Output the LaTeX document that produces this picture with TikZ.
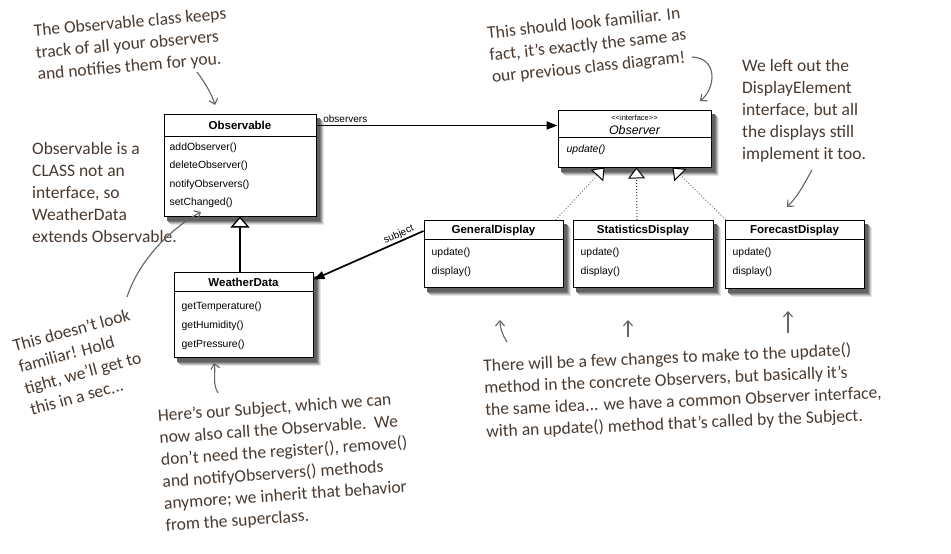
\documentclass[tikz,border=0pt]{standalone}
\usepackage{fontspec}
\setmainfont{Liberation Sans}
\newfontfamily\hand{Carlito}
\usetikzlibrary{arrows.meta,backgrounds,calc}
\definecolor{ink}{RGB}{72,58,48}
\definecolor{pen}{RGB}{100,100,100}
\begin{document}
\begin{tikzpicture}[x=1pt,y=-1pt,
  cls/.style={draw, line width=1pt, fill=white, inner sep=0pt},
  ttl/.style={font=\bfseries\fontsize{11.5}{13}\selectfont, inner sep=0pt},
  meth/.style={anchor=west, font=\fontsize{10.4}{12}\selectfont, inner sep=0pt},
  divl/.style={line width=0.8pt},
  lbl/.style={font=\fontsize{10}{12}\selectfont, inner sep=0pt},
  note/.style={align=left, font=\hand\fontsize{17.5}{22}\selectfont, text=ink, inner sep=0pt},
  pencil/.style={draw=pen, line width=1.1pt, -{Straight Barb[length=5pt, width=9pt]}},
  real/.style={dotted, draw=gray, line width=1pt,
    -{Triangle[open, length=11pt, width=17pt, color=black, fill=white]}},
  assoc/.style={line width=1.7pt, -{Triangle[length=11pt, width=8pt]}},
  inher/.style={line width=1.3pt, -{Triangle[open, length=11pt, width=19pt, fill=white]}}
]
\useasboundingbox (0,0) rectangle (951,554);

% ---------- Observable ----------
\node[cls, minimum width=152, minimum height=102] (obs) at (240,165) {};
\draw[divl] ($(obs.north west)+(0,23)$) -- ($(obs.north east)+(0,23)$);
\node[ttl] (obsT) at ($(obs.north)+(0,12)$) {Observable};
\node[meth] (obs1) at ($(obs.north west)+(6,34)$) {addObserver()};
\node[meth] (obs2) at ($(obs.north west)+(6,52)$) {deleteObserver()};
\node[meth] (obs3) at ($(obs.north west)+(6,71)$) {notifyObservers()};
\node[meth] (obs4) at ($(obs.north west)+(6,89)$) {setChanged()};

% ---------- WeatherData ----------
\node[cls, minimum width=139, minimum height=85] (wd) at (243.5,314.5) {};
\draw[divl] ($(wd.north west)+(0,19.5)$) -- ($(wd.north east)+(0,19.5)$);
\node[ttl] (wdT) at ($(wd.north)+(0,11)$) {WeatherData};
\node[meth] (wd1) at ($(wd.north west)+(8,35)$) {getTemperature()};
\node[meth] (wd2) at ($(wd.north west)+(8,54)$) {getHumidity()};
\node[meth] (wd3) at ($(wd.north west)+(8,73)$) {getPressure()};

% ---------- Observer ----------
\node[cls, minimum width=153, minimum height=57] (obsv) at (634.5,138.5) {};
\draw[divl] ($(obsv.north west)+(0,28)$) -- ($(obsv.north east)+(0,28)$);
\node[inner sep=0pt, font=\fontsize{7.5}{8}\selectfont] (obsvS) at ($(obsv.north)+(0,8.5)$) {<{}<interface>{}>};
\node[inner sep=0pt, font=\itshape\fontsize{12.4}{14}\selectfont] (obsvT) at ($(obsv.north)+(0,21)$) {Observer};
\node[meth, font=\itshape\fontsize{10.4}{12}\selectfont] (obsv1) at ($(obsv.north west)+(9,40)$) {update()};

% ---------- Displays ----------
\node[cls, minimum width=139, minimum height=67] (gen) at (493.5,254) {};
\draw[divl] ($(gen.north west)+(0,19.5)$) -- ($(gen.north east)+(0,19.5)$);
\node[ttl] (genT) at ($(gen.north)+(0,11)$) {GeneralDisplay};
\node[meth] (gen1) at ($(gen.north west)+(8,33)$) {update()};
\node[meth] (gen2) at ($(gen.north west)+(8,52)$) {display()};

\node[cls, minimum width=140, minimum height=67] (stat) at (643,254) {};
\draw[divl] ($(stat.north west)+(0,19.5)$) -- ($(stat.north east)+(0,19.5)$);
\node[ttl] (statT) at ($(stat.north)+(0,11)$) {StatisticsDisplay};
\node[meth] (stat1) at ($(stat.north west)+(8,33)$) {update()};
\node[meth] (stat2) at ($(stat.north west)+(8,52)$) {display()};

\node[cls, minimum width=139, minimum height=68] (fore) at (794.5,254) {};
\draw[divl] ($(fore.north west)+(0,19.5)$) -- ($(fore.north east)+(0,19.5)$);
\node[ttl] (foreT) at ($(fore.north)+(0,11)$) {ForecastDisplay};
\node[meth] (fore1) at ($(fore.north west)+(8,33)$) {update()};
\node[meth] (fore2) at ($(fore.north west)+(8,52)$) {display()};

% ---------- shadows (background) ----------
\begin{scope}[on background layer]
\fill[white] (0,0) rectangle (951,554);
\foreach \n in {obs,wd,obsv,gen,stat,fore}{
  \fill[black!10] ($(\n.north west)+(7,8)$) rectangle ($(\n.south east)+(7,8)$);
  \fill[black!22] ($(\n.north west)+(6,7)$) rectangle ($(\n.south east)+(6,7)$);
  \fill[black!38] ($(\n.north west)+(5,6)$) rectangle ($(\n.south east)+(5,6)$);
  \fill[black!52] ($(\n.north west)+(4,5)$) rectangle ($(\n.south east)+(4,5)$);
  \fill[black!62] ($(\n.north west)+(3,4)$) rectangle ($(\n.south east)+(3,4)$);
}
\end{scope}

% ---------- UML connectors ----------
\draw[assoc] (obs.east |- obsT) -- (obsT -| obsv.west)
  node[lbl, pos=0.0, anchor=south west, xshift=6pt, yshift=2pt] (lobs) {observers};
\draw[assoc] (gen.west |- genT) -- ($(wd.north east)+(0,8)$)
  node[lbl, pos=0.2, sloped, above=1pt] (lsub) {subject};
\draw[inher] (wd.north -| obs.south) -- (obs.south);
\draw[real] ($(gen.north east)+(-8,0)$) -- ($(obsv.south)+(-30,0)$);
\draw[real, draw=black!80] ($(stat.north)+(-6,0)$) -- ($(obsv.south)+(2,0)$);
\draw[real] ($(fore.north west)+(1,0)$) -- ($(obsv.south)+(38,0)$);

% ---------- Handwritten notes ----------
\node[note, rotate=5] (n1) at (132,45) {The Observable class keeps\\track of all your observers\\and notifies them for you.};
\node[note, anchor=west] (n2) at (32,192) {Observable is a\\CLASS not an\\interface, so\\WeatherData\\extends Observable.};
\node[note, rotate=15] (n3) at (80,362) {This doesn’t look\\familiar! Hold\\tight, we’ll get to\\this in a sec...};
\node[note, rotate=4] (n4) at (285,463) {Here’s our Subject, which we can\\now also call the Observable.\ \ We\\don’t need the register(), remove()\\and notifyObservers() methods\\anymore; we inherit that behavior\\from the superclass.};
\node[note, rotate=2.5] (n5) at (683,391) {There will be a few changes to make to the update()\\method in the concrete Observers, but basically it’s\\the same idea... we have a common Observer interface,\\with an update() method that’s called by the Subject.};
\node[note, rotate=6] (n6) at (588,46) {This should look familiar. In\\fact, it’s exactly the same as\\our previous class diagram!};
\node[note, anchor=west] (n7) at (742,111) {We left out the\\DisplayElement\\interface, but all\\the displays still\\implement it too.};

% ---------- Pencil arrows ----------
\coordinate (a1s) at (197,72);  \coordinate (a1e) at (215,105);
\coordinate (a2s) at (127,297); \coordinate (a2e) at (201,212);
\coordinate (a3s) at (218,393); \coordinate (a3e) at (214,363);
\coordinate (a4s) at (507,342); \coordinate (a4e) at (500,320);
\coordinate (a5s) at (628,337); \coordinate (a5e) at (628,320);
\coordinate (a6s) at (788,333); \coordinate (a6e) at (788,311);
\coordinate (a7s) at (692,57);  \coordinate (a7e) at (700,101);
\coordinate (a8s) at (812,170); \coordinate (a8e) at (787,207);
\draw[pencil] (a1s) .. controls (206,84) and (212,95) .. (a1e);
\draw[pencil] (a2s) .. controls (140,258) and (172,228) .. (a2e);
\draw[pencil] (a3s) .. controls (212,383) and (216,372) .. (a3e);
\draw[pencil] (a4s) .. controls (502,334) and (500,327) .. (a4e);
\draw[pencil] (a5s) -- (a5e);
\draw[pencil] (a6s) -- (a6e);
\draw[pencil] (a7s) .. controls (718,58) and (716,88) .. (a7e);
\draw[pencil] (a8s) .. controls (806,180) and (800,194) .. (a8e);
\end{tikzpicture}
\end{document}
